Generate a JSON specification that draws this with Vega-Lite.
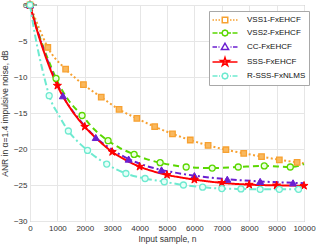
{
  "$schema": "https://vega.github.io/schema/vega-lite/v6.json",
  "width": 274,
  "height": 216,
  "autosize": {"type": "none"},
  "padding": {"left": 30, "top": 5, "right": 14, "bottom": 29},
  "config": {
    "font": "Liberation Sans",
    "view": {"stroke": "#9a9a9a", "strokeWidth": 1},
    "axis": {
      "labelFont": "Liberation Sans",
      "titleFont": "Liberation Sans",
      "labelFontSize": 8,
      "titleFontSize": 8.5,
      "titleFontWeight": "normal",
      "labelColor": "#333333",
      "titleColor": "#333333",
      "gridColor": "#e6e6e6",
      "domain": false,
      "ticks": false
    }
  },
  "data": {
    "values": [
      {"s": "VSS1-FxEHCF", "n": 0, "v": 0, "m": 1},
      {"s": "VSS1-FxEHCF", "n": 320, "v": -3.1, "m": 0},
      {"s": "VSS1-FxEHCF", "n": 650, "v": -5.9, "m": 1},
      {"s": "VSS1-FxEHCF", "n": 1300, "v": -8.9, "m": 1},
      {"s": "VSS1-FxEHCF", "n": 1950, "v": -11.05, "m": 1},
      {"s": "VSS1-FxEHCF", "n": 2600, "v": -12.8, "m": 1},
      {"s": "VSS1-FxEHCF", "n": 3250, "v": -14.5, "m": 1},
      {"s": "VSS1-FxEHCF", "n": 3900, "v": -15.75, "m": 1},
      {"s": "VSS1-FxEHCF", "n": 4550, "v": -16.9, "m": 1},
      {"s": "VSS1-FxEHCF", "n": 5200, "v": -17.9, "m": 1},
      {"s": "VSS1-FxEHCF", "n": 5850, "v": -18.75, "m": 1},
      {"s": "VSS1-FxEHCF", "n": 6500, "v": -19.5, "m": 1},
      {"s": "VSS1-FxEHCF", "n": 7150, "v": -20.1, "m": 1},
      {"s": "VSS1-FxEHCF", "n": 7800, "v": -20.6, "m": 1},
      {"s": "VSS1-FxEHCF", "n": 8450, "v": -21.05, "m": 1},
      {"s": "VSS1-FxEHCF", "n": 9100, "v": -21.5, "m": 1},
      {"s": "VSS1-FxEHCF", "n": 9750, "v": -21.85, "m": 1},
      {"s": "VSS1-FxEHCF", "n": 10000, "v": -22.0, "m": 0},

      {"s": "VSS2-FxEHCF", "n": 0, "v": 0, "m": 1},
      {"s": "VSS2-FxEHCF", "n": 250, "v": -3.2, "m": 0},
      {"s": "VSS2-FxEHCF", "n": 500, "v": -6.0, "m": 0},
      {"s": "VSS2-FxEHCF", "n": 750, "v": -8.4, "m": 0},
      {"s": "VSS2-FxEHCF", "n": 950, "v": -10.2, "m": 1},
      {"s": "VSS2-FxEHCF", "n": 1400, "v": -13.2, "m": 0},
      {"s": "VSS2-FxEHCF", "n": 1900, "v": -15.35, "m": 1},
      {"s": "VSS2-FxEHCF", "n": 2350, "v": -17.3, "m": 0},
      {"s": "VSS2-FxEHCF", "n": 2850, "v": -18.85, "m": 1},
      {"s": "VSS2-FxEHCF", "n": 3300, "v": -19.9, "m": 0},
      {"s": "VSS2-FxEHCF", "n": 3800, "v": -20.75, "m": 1},
      {"s": "VSS2-FxEHCF", "n": 4250, "v": -21.4, "m": 0},
      {"s": "VSS2-FxEHCF", "n": 4750, "v": -21.9, "m": 1},
      {"s": "VSS2-FxEHCF", "n": 5700, "v": -22.5, "m": 1},
      {"s": "VSS2-FxEHCF", "n": 6650, "v": -22.65, "m": 1},
      {"s": "VSS2-FxEHCF", "n": 7600, "v": -22.5, "m": 1},
      {"s": "VSS2-FxEHCF", "n": 8550, "v": -22.35, "m": 1},
      {"s": "VSS2-FxEHCF", "n": 9500, "v": -22.5, "m": 1},
      {"s": "VSS2-FxEHCF", "n": 10000, "v": -22.1, "m": 0},

      {"s": "CC-FxEHCF", "n": 0, "v": 0, "m": 1},
      {"s": "CC-FxEHCF", "n": 250, "v": -3.3, "m": 0},
      {"s": "CC-FxEHCF", "n": 500, "v": -6.2, "m": 0},
      {"s": "CC-FxEHCF", "n": 750, "v": -8.8, "m": 0},
      {"s": "CC-FxEHCF", "n": 1000, "v": -11.0, "m": 0},
      {"s": "CC-FxEHCF", "n": 1200, "v": -12.6, "m": 1},
      {"s": "CC-FxEHCF", "n": 1800, "v": -15.9, "m": 0},
      {"s": "CC-FxEHCF", "n": 2400, "v": -18.4, "m": 1},
      {"s": "CC-FxEHCF", "n": 3000, "v": -20.1, "m": 0},
      {"s": "CC-FxEHCF", "n": 3600, "v": -21.4, "m": 1},
      {"s": "CC-FxEHCF", "n": 4200, "v": -22.3, "m": 0},
      {"s": "CC-FxEHCF", "n": 4800, "v": -22.9, "m": 1},
      {"s": "CC-FxEHCF", "n": 5400, "v": -23.35, "m": 0},
      {"s": "CC-FxEHCF", "n": 6000, "v": -23.7, "m": 1},
      {"s": "CC-FxEHCF", "n": 7200, "v": -24.2, "m": 1},
      {"s": "CC-FxEHCF", "n": 8400, "v": -24.5, "m": 1},
      {"s": "CC-FxEHCF", "n": 9600, "v": -24.7, "m": 1},
      {"s": "CC-FxEHCF", "n": 10000, "v": -24.75, "m": 0},

      {"s": "SSS-FxEHCF", "n": 0, "v": 0, "m": 1},
      {"s": "SSS-FxEHCF", "n": 250, "v": -3.45, "m": 0},
      {"s": "SSS-FxEHCF", "n": 500, "v": -6.4, "m": 0},
      {"s": "SSS-FxEHCF", "n": 750, "v": -9.0, "m": 0},
      {"s": "SSS-FxEHCF", "n": 1000, "v": -11.2, "m": 1},
      {"s": "SSS-FxEHCF", "n": 1500, "v": -14.5, "m": 0},
      {"s": "SSS-FxEHCF", "n": 2000, "v": -16.9, "m": 1},
      {"s": "SSS-FxEHCF", "n": 2500, "v": -18.8, "m": 0},
      {"s": "SSS-FxEHCF", "n": 3000, "v": -20.4, "m": 1},
      {"s": "SSS-FxEHCF", "n": 3500, "v": -21.55, "m": 0},
      {"s": "SSS-FxEHCF", "n": 4000, "v": -22.45, "m": 1},
      {"s": "SSS-FxEHCF", "n": 4500, "v": -23.1, "m": 0},
      {"s": "SSS-FxEHCF", "n": 5000, "v": -23.6, "m": 1},
      {"s": "SSS-FxEHCF", "n": 5500, "v": -23.95, "m": 0},
      {"s": "SSS-FxEHCF", "n": 6000, "v": -24.25, "m": 1},
      {"s": "SSS-FxEHCF", "n": 6500, "v": -24.5, "m": 0},
      {"s": "SSS-FxEHCF", "n": 7000, "v": -24.7, "m": 1},
      {"s": "SSS-FxEHCF", "n": 8000, "v": -24.95, "m": 1},
      {"s": "SSS-FxEHCF", "n": 9000, "v": -25.05, "m": 1},
      {"s": "SSS-FxEHCF", "n": 10000, "v": -25.1, "m": 1},

      {"s": "R-SSS-FxNLMS", "n": 0, "v": 0, "m": 1},
      {"s": "R-SSS-FxNLMS", "n": 175, "v": -4.0, "m": 0},
      {"s": "R-SSS-FxNLMS", "n": 350, "v": -7.3, "m": 0},
      {"s": "R-SSS-FxNLMS", "n": 525, "v": -10.1, "m": 0},
      {"s": "R-SSS-FxNLMS", "n": 700, "v": -12.6, "m": 1},
      {"s": "R-SSS-FxNLMS", "n": 1050, "v": -15.3, "m": 0},
      {"s": "R-SSS-FxNLMS", "n": 1400, "v": -17.5, "m": 1},
      {"s": "R-SSS-FxNLMS", "n": 1750, "v": -19.0, "m": 0},
      {"s": "R-SSS-FxNLMS", "n": 2100, "v": -20.2, "m": 1},
      {"s": "R-SSS-FxNLMS", "n": 2450, "v": -21.25, "m": 0},
      {"s": "R-SSS-FxNLMS", "n": 2800, "v": -22.1, "m": 1},
      {"s": "R-SSS-FxNLMS", "n": 3500, "v": -23.4, "m": 1},
      {"s": "R-SSS-FxNLMS", "n": 4200, "v": -24.1, "m": 1},
      {"s": "R-SSS-FxNLMS", "n": 4900, "v": -24.55, "m": 1},
      {"s": "R-SSS-FxNLMS", "n": 5600, "v": -25.0, "m": 1},
      {"s": "R-SSS-FxNLMS", "n": 6300, "v": -25.3, "m": 1},
      {"s": "R-SSS-FxNLMS", "n": 7000, "v": -25.5, "m": 1},
      {"s": "R-SSS-FxNLMS", "n": 7700, "v": -25.55, "m": 1},
      {"s": "R-SSS-FxNLMS", "n": 8400, "v": -25.6, "m": 1},
      {"s": "R-SSS-FxNLMS", "n": 9100, "v": -25.6, "m": 1},
      {"s": "R-SSS-FxNLMS", "n": 9800, "v": -25.6, "m": 1},
      {"s": "R-SSS-FxNLMS", "n": 10000, "v": -25.6, "m": 0}
    ]
  },
  "encoding": {
    "x": {
      "field": "n", "type": "quantitative",
      "scale": {"domain": [0, 10000], "nice": false, "zero": false},
      "axis": {"values": [0,1000,2000,3000,4000,5000,6000,7000,8000,9000,10000], "format": "d", "grid": true, "labelPadding": 3, "labelFlush": false, "title": "Input sample, n", "titlePadding": 2, "labelOverlap": false}
    },
    "y": {
      "field": "v", "type": "quantitative",
      "scale": {"domain": [-30, 0], "nice": false, "zero": false},
      "axis": {"values": [-30,-25,-20,-15,-10,-5,0], "grid": true, "labelPadding": 3, "title": "ANR in α=1.4 impulsive noise, dB", "titlePadding": 4}
    }
  },
  "layer": [
    {
      "mark": {"type": "line", "strokeWidth": 2, "interpolate": "monotone"},
      "encoding": {
        "stroke": {
          "field": "s", "type": "nominal", "legend": null,
          "scale": {"domain": ["VSS1-FxEHCF","VSS2-FxEHCF","CC-FxEHCF","SSS-FxEHCF","R-SSS-FxNLMS"],
                    "range": ["#F7A131","#5AD700","#6B1FD0","#FF0000","#6EEAD0"]}
        },
        "strokeDash": {
          "field": "s", "type": "nominal", "legend": null,
          "scale": {"domain": ["VSS1-FxEHCF","VSS2-FxEHCF","CC-FxEHCF","SSS-FxEHCF","R-SSS-FxNLMS"],
                    "range": [[2,2.5],[6,4],[6,3,2,3],[1,0],[7,3,2,3]]}
        }
      }
    },
    {
      "transform": [{"filter": "datum.m == 1 && datum.n == 0"}],
      "mark": {"type": "point", "filled": false, "opacity": 1, "strokeWidth": 1.5},
      "encoding": {
        "color": {
          "field": "s", "type": "nominal",
          "scale": {"domain": ["VSS1-FxEHCF","VSS2-FxEHCF","CC-FxEHCF","SSS-FxEHCF","R-SSS-FxNLMS"],
                    "range": ["#F7A131","#5AD700","#6B1FD0","#FF0000","#6EEAD0"]},
          "legend": {
            "orient": "none", "legendX": 179, "legendY": 6, "title": null, "padding": 3,
            "fillColor": "white", "strokeColor": "#a8a8a8",
            "labelFont": "Liberation Sans", "labelFontSize": 8, "labelColor": "#111111",
            "symbolSize": 100, "symbolStrokeWidth": 1.5, "rowPadding": 1, "symbolOffset": 7, "labelOffset": 16
          }
        },
        "shape": {
          "field": "s", "type": "nominal",
          "scale": {"domain": ["VSS1-FxEHCF","VSS2-FxEHCF","CC-FxEHCF","SSS-FxEHCF","R-SSS-FxNLMS"],
                    "range": [
                      "M-2.5,0L-2.2,0M-1.9,0L-1.6,0M-1.3,0L-1,0M1,0L1.3,0M1.6,0L1.9,0M2.2,0L2.5,0M-0.55,-0.55L0.55,-0.55L0.55,0.55L-0.55,0.55Z",
                      "M-2.5,0L-1.5,0M-1.2,0L-0.65,0M0.65,0L1.2,0M1.5,0L2.5,0M0.6,0L0.42,0.42L0,0.6L-0.42,0.42L-0.6,0L-0.42,-0.42L0,-0.6L0.42,-0.42Z",
                      "M-2.5,0L-1.6,0M-1.3,0L-1.1,0M1.1,0L1.3,0M1.6,0L2.5,0M0,-0.75L0.72,0.5L-0.72,0.5Z",
                      "M-2.5,0L2.5,0M0,-0.9L0.202,-0.278L0.856,-0.278L0.327,0.106L0.529,0.728L0,0.344L-0.529,0.728L-0.327,0.106L-0.856,-0.278L-0.202,-0.278Z",
                      "M-2.5,0L-1.5,0M-1.2,0L-1,0M1,0L1.2,0M1.5,0L2.5,0M0.6,0L0.42,0.42L0,0.6L-0.42,0.42L-0.6,0L-0.42,-0.42L0,-0.6L0.42,-0.42Z"
                    ]},
          "legend": {
            "orient": "none", "legendX": 179, "legendY": 6, "title": null, "padding": 3,
            "fillColor": "white", "strokeColor": "#a8a8a8",
            "labelFont": "Liberation Sans", "labelFontSize": 8, "labelColor": "#111111",
            "symbolSize": 100, "symbolStrokeWidth": 1.5, "rowPadding": 1, "symbolOffset": 7, "labelOffset": 16
          }
        }
      }
    },
    {
      "transform": [{"filter": "datum.m == 1 && datum.s == 'VSS1-FxEHCF'"}],
      "mark": {"type": "point", "shape": "square", "size": 30, "filled": true, "fill": "#F9B85E", "stroke": "#F7A131", "strokeWidth": 1.3, "opacity": 1}
    },
    {
      "transform": [{"filter": "datum.m == 1 && datum.s == 'VSS2-FxEHCF'"}],
      "mark": {"type": "point", "shape": "circle", "size": 36, "filled": true, "fill": "#ECFFE0", "stroke": "#5AD700", "strokeWidth": 1.3, "opacity": 1}
    },
    {
      "transform": [{"filter": "datum.m == 1 && datum.s == 'CC-FxEHCF'"}],
      "mark": {"type": "point", "shape": "triangle-up", "size": 50, "filled": true, "fill": "#6B1FD0", "stroke": "#6B1FD0", "strokeWidth": 1, "opacity": 1}
    },
    {
      "transform": [{"filter": "datum.m == 1 && datum.s == 'SSS-FxEHCF'"}],
      "mark": {"type": "point", "shape": "M0,-1L0.2245,-0.309L0.951,-0.309L0.363,0.118L0.588,0.809L0,0.382L-0.588,0.809L-0.363,0.118L-0.951,-0.309L-0.2245,-0.309Z", "size": 72, "filled": true, "fill": "#FF0000", "stroke": "#FF0000", "strokeWidth": 1, "opacity": 1}
    },
    {
      "transform": [{"filter": "datum.m == 1 && datum.s == 'R-SSS-FxNLMS'"}],
      "mark": {"type": "point", "shape": "circle", "size": 36, "filled": true, "fill": "#E6FFF8", "stroke": "#6EEAD0", "strokeWidth": 1.3, "opacity": 1}
    }
  ],
  "resolve": {"legend": {"color": "independent", "shape": "independent"}}
}
